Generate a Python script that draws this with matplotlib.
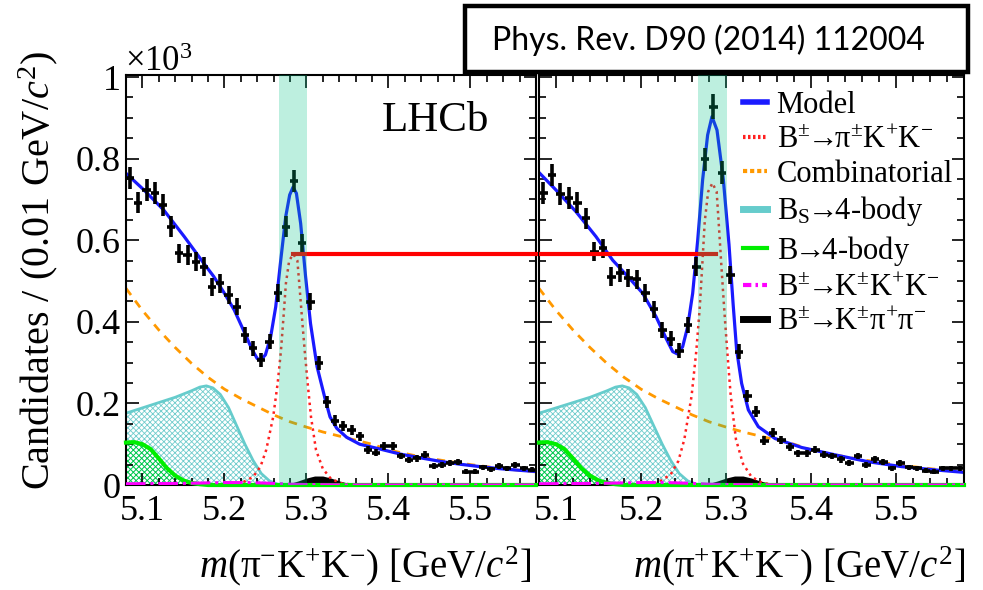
import numpy as np
import matplotlib
matplotlib.use("Agg")
import matplotlib.pyplot as plt
from matplotlib.lines import Line2D
from matplotlib.patches import Rectangle

plt.rcParams['font.family'] = 'serif'
plt.rcParams['font.serif'] = ['Liberation Serif', 'DejaVu Serif']
plt.rcParams['mathtext.fontset'] = 'custom'
plt.rcParams['mathtext.rm'] = 'Liberation Serif'
plt.rcParams['mathtext.it'] = 'Liberation Serif:italic'
plt.rcParams['mathtext.bf'] = 'Liberation Serif:bold'
plt.rcParams['hatch.linewidth'] = 0.6

# bin centres, 0.01 GeV wide
bins = np.round(np.arange(5.085, 5.58, 0.01), 3)

# candidates (x10^3) per bin, pi- K+ K- (left) and pi+ K+ K- (right)
left_y = [0.752, 0.692, 0.723, 0.715, 0.686, 0.633, 0.568, 0.564, 0.547, 0.535,
          0.486, 0.494, 0.466, 0.437, 0.368, 0.335, 0.306, 0.351, 0.471, 0.633,
          0.745, 0.592, 0.449, 0.300, 0.204, 0.158, 0.145, 0.135, 0.120, 0.086,
          0.079, 0.096, 0.096, 0.071, 0.061, 0.065, 0.074, 0.047, 0.049, 0.055,
          0.057, 0.033, 0.033, 0.043, 0.038, 0.047, 0.041, 0.049, 0.041, 0.037]
right_y = [0.715, 0.760, 0.713, 0.703, 0.692, 0.654, 0.572, 0.580, 0.511, 0.520,
           0.507, 0.504, 0.470, 0.431, 0.380, 0.359, 0.329, 0.392, 0.535, 0.798,
           0.927, 0.766, 0.515, 0.327, 0.217, 0.180, 0.109, 0.128, 0.110, 0.094,
           0.078, 0.078, 0.087, 0.074, 0.071, 0.063, 0.055, 0.071, 0.049, 0.063,
           0.057, 0.041, 0.053, 0.043, 0.041, 0.035, 0.033, 0.041, 0.041, 0.041]

# total model
model_l_x = [5.08, 5.102, 5.126, 5.151, 5.175, 5.187, 5.200, 5.212, 5.224, 5.234, 5.240,
             5.244, 5.250, 5.2565, 5.2626, 5.2687, 5.2748, 5.2796, 5.2837, 5.2878, 5.293,
             5.299, 5.305, 5.313, 5.3227, 5.3288, 5.337, 5.349, 5.365, 5.390, 5.414,
             5.438, 5.463, 5.487, 5.512, 5.536, 5.560, 5.58]
model_l_y = [0.764, 0.723, 0.674, 0.609, 0.543, 0.511, 0.470, 0.429, 0.376, 0.331, 0.310,
             0.306, 0.319, 0.364, 0.437, 0.551, 0.658, 0.711, 0.730, 0.715, 0.641,
             0.511, 0.396, 0.290, 0.212, 0.167, 0.139, 0.117, 0.100, 0.088, 0.076,
             0.067, 0.058, 0.051, 0.045, 0.040, 0.036, 0.033]
model_r_x = [5.08, 5.100, 5.1235, 5.147, 5.1667, 5.1863, 5.202, 5.2176, 5.2294, 5.2373,
             5.2431, 5.249, 5.2549, 5.2608, 5.2667, 5.2725, 5.2784, 5.2835, 5.2894, 5.2969,
             5.3035, 5.3085, 5.3125, 5.3184, 5.3263, 5.338, 5.3576, 5.389, 5.4282, 5.4674,
             5.5067, 5.546, 5.58]
model_r_y = [0.766, 0.723, 0.670, 0.609, 0.551, 0.507, 0.470, 0.413, 0.360, 0.327,
             0.321, 0.339, 0.388, 0.470, 0.600, 0.748, 0.858, 0.903, 0.870, 0.748,
             0.590, 0.440, 0.331, 0.249, 0.184, 0.143, 0.114, 0.092, 0.074, 0.057,
             0.045, 0.037, 0.031]

# B -> pi K K signal component
sig_x = [5.20, 5.22, 5.235, 5.244, 5.251, 5.2595, 5.265, 5.269, 5.272, 5.275, 5.279,
         5.284, 5.289, 5.2913, 5.2946, 5.2979, 5.3015, 5.3056, 5.3117, 5.320, 5.330,
         5.343, 5.36]
sig_l_y = [0.0, 0.004, 0.020, 0.045, 0.086, 0.167, 0.250, 0.330, 0.410, 0.494, 0.550,
           0.566, 0.550, 0.494, 0.410, 0.330, 0.250, 0.167, 0.086, 0.040, 0.015,
           0.004, 0.0]
sig_r_y = [0.0, 0.006, 0.026, 0.059, 0.112, 0.218, 0.327, 0.431, 0.536, 0.646, 0.719,
           0.740, 0.719, 0.646, 0.536, 0.431, 0.327, 0.218, 0.112, 0.052, 0.020,
           0.005, 0.0]

# combinatorial
comb_x = [5.08, 5.10, 5.12, 5.14, 5.16, 5.18, 5.20, 5.22, 5.24, 5.26, 5.28, 5.30, 5.32,
          5.34, 5.36, 5.38, 5.40, 5.43, 5.46, 5.50, 5.54, 5.58]
comb_y = [0.482, 0.428, 0.380, 0.337, 0.298, 0.264, 0.235, 0.212, 0.192, 0.172, 0.155,
          0.142, 0.130, 0.120, 0.110, 0.100, 0.086, 0.073, 0.062, 0.050, 0.040, 0.032]

# Bs -> 4-body
bs_x = [5.08, 5.10, 5.12, 5.14, 5.16, 5.17, 5.178, 5.186, 5.195, 5.205, 5.215, 5.225,
        5.235, 5.245, 5.255, 5.265, 5.275]
bs_y = [0.176, 0.189, 0.202, 0.215, 0.231, 0.240, 0.243, 0.238, 0.222, 0.190, 0.145,
        0.100, 0.060, 0.028, 0.010, 0.002, 0.0]

# B -> 4-body
b4_x = [5.08, 5.09, 5.10, 5.11, 5.12, 5.13, 5.14, 5.15, 5.16, 5.17, 5.18, 5.58]
b4_y = [0.104, 0.105, 0.100, 0.088, 0.065, 0.041, 0.023, 0.011, 0.005, 0.002, 0.0, 0.0]

# B -> K K K
kkk_x = [5.08, 5.15, 5.20, 5.23, 5.26, 5.28, 5.30, 5.35, 5.58]
kkk_y = [0.003, 0.004, 0.006, 0.006, 0.004, 0.002, 0.001, 0.0, 0.0]

# B -> K pi pi
kpp_x = [5.26, 5.28, 5.29, 5.30, 5.31, 5.32, 5.33, 5.34, 5.35, 5.37, 5.40]
kpp_y = [0.0, 0.004, 0.010, 0.017, 0.022, 0.022, 0.017, 0.010, 0.005, 0.002, 0.0]

yticks = [0, 0.2, 0.4, 0.6, 0.8, 1.0]
ytick_labels = ['0', '0.2', '0.4', '0.6', '0.8', '1']
xticks = [5.1, 5.2, 5.3, 5.4, 5.5]
xtick_labels = ['5.1', '5.2', '5.3', '5.4', '5.5']

peak_level = 0.566
band = (5.267, 5.301)

fig = plt.figure(figsize=(9.83, 5.90), dpi=100)
ax1 = fig.add_axes([126/983, 105/590, 410/983, 410/590])
ax2 = fig.add_axes([539/983, 105/590, 425/983, 410/590])


def draw_panel(ax, data_y, mx, my, sy):
    ax.fill_between(bs_x, 0, bs_y, facecolor='none', edgecolor='#70cccc', hatch='xxxxxx',
                    linewidth=0, zorder=1)
    ax.plot(bs_x, bs_y, color='#66cccc', lw=2, zorder=1.2)
    ax.fill_between(b4_x, 0, b4_y, facecolor='none', edgecolor='#00cc44', hatch='xxxxxx',
                    linewidth=0, zorder=1.3)
    ax.plot(b4_x, b4_y, color='#00ee00', lw=3, zorder=3, clip_on=False)
    ax.fill_between(kpp_x, 0, kpp_y, color='black', lw=0, zorder=1.5)
    ax.plot(kkk_x, kkk_y, color='#ff00ff', lw=2.2, ls='-.', zorder=3.1)
    ax.plot(comb_x, comb_y, color='#ff9900', lw=2, ls=(0, (3, 2.5)), zorder=2)
    ax.plot(sig_x, sy, color='#ff2020', lw=1.8, ls=(0, (1, 1.6)), zorder=2)
    ax.plot(mx, my, color='#1a1aff', lw=2.3, zorder=2.2)
    yerr = np.sqrt(np.array(data_y) * 1000) / 1000
    ax.errorbar(bins, data_y, yerr=yerr, xerr=0.005, fmt='none', ecolor='black',
                elinewidth=2.6, capsize=0, zorder=2.4)
    ax.axvspan(band[0], band[1], color=(0.0, 0.77, 0.53), alpha=0.26, lw=0, zorder=5)

    ax.set_xlim(5.08, 5.58)
    ax.set_ylim(0, 1.005)
    ax.set_xticks(xticks)
    ax.set_xticklabels(xtick_labels)
    ax.set_xticks(np.arange(5.08, 5.581, 0.02), minor=True)
    ax.set_yticks(yticks)
    ax.set_yticks(np.arange(0, 1.001, 0.05), minor=True)
    ax.tick_params(which='both', direction='in', top=True, right=True, width=1.2)
    ax.tick_params(which='major', length=9, labelsize=26, pad=7)
    ax.tick_params(which='minor', length=5)
    for s in ax.spines.values():
        s.set_linewidth(1.5)


draw_panel(ax1, left_y, model_l_x, model_l_y, sig_l_y)
draw_panel(ax2, right_y, model_r_x, model_r_y, sig_r_y)
ax1.set_yticklabels(ytick_labels)
ax2.set_yticklabels([])
ax1.tick_params(axis='y', pad=4)

# red line linking the two signal peaks
ax1.plot([5.284, 5.585], [peak_level, peak_level], color='red', lw=3, zorder=3, clip_on=False)
ax2.plot([5.08, 5.288], [peak_level, peak_level], color='red', lw=3, zorder=3)

ax1.text(5.457, 0.892, 'LHCb', fontsize=31, ha='center', va='center')
fig.text(125/983, 1 - 71/590, '×10$^{3}$', fontsize=25, ha='left', va='baseline')
fig.text(38/983, 1 - 270/590, 'Candidates / (0.01 GeV/$c^{2}$)', fontsize=29,
         rotation=90, ha='center', va='center')
fig.text(531/983, 1 - 566/590, '$m$(π$^{-}$K$^{+}$K$^{-}$) [GeV/$c^{2}$]', fontsize=28,
         ha='right', va='center')
fig.text(965/983, 1 - 566/590, '$m$(π$^{+}$K$^{+}$K$^{-}$) [GeV/$c^{2}$]', fontsize=28,
         ha='right', va='center')

handles = [
    Line2D([], [], color='#1a1aff', lw=4),
    Line2D([], [], color='#ff2020', lw=3, ls=(0, (0.6, 0.6))),
    Line2D([], [], color='#ff9900', lw=3, ls=(0, (1, 0.7))),
    Line2D([], [], color='#66cccc', lw=5),
    Line2D([], [], color='#00ee00', lw=3),
    Line2D([], [], color='#ff00ff', lw=3, ls=(0, (2, 1, 0.6, 1))),
    Line2D([], [], color='black', lw=5),
]
labels = ['Model',
          r'$\mathrm{B^{\pm}\!\!\rightarrow\!\!\pi^{\pm}K^{+}K^{-}}$',
          'Combinatorial',
          r'$\mathrm{B_{S}\!\!\rightarrow\!\!4\text{-}body}$',
          r'$\mathrm{B\!\!\rightarrow\!\!4\text{-}body}$',
          r'$\mathrm{B^{\pm}\!\!\rightarrow\!\!K^{\pm}K^{+}K^{-}}$',
          r'$\mathrm{B^{\pm}\!\!\rightarrow\!\!K^{\pm}\pi^{+}\pi^{-}}$']
fig.legend(handles, labels, loc='upper left', bbox_to_anchor=(743/983, 1 - 91/590),
           bbox_transform=fig.transFigure, frameon=False, fontsize=22, borderpad=0,
           borderaxespad=0, handlelength=0.8, handletextpad=0.3, labelspacing=0.18)

# journal reference box
fig.patches.append(Rectangle((465/983, 1 - 72/590), 503/983, 66/590, transform=fig.transFigure,
                             facecolor='white', edgecolor='black', lw=3.2, zorder=10))
fig.text(708/983, 1 - 40/590, 'Phys. Rev. D90 (2014) 112004', fontsize=23,
         family=['Lato', 'DejaVu Sans'], ha='center', va='center', zorder=11)

fig.savefig('out.png', dpi=100)
